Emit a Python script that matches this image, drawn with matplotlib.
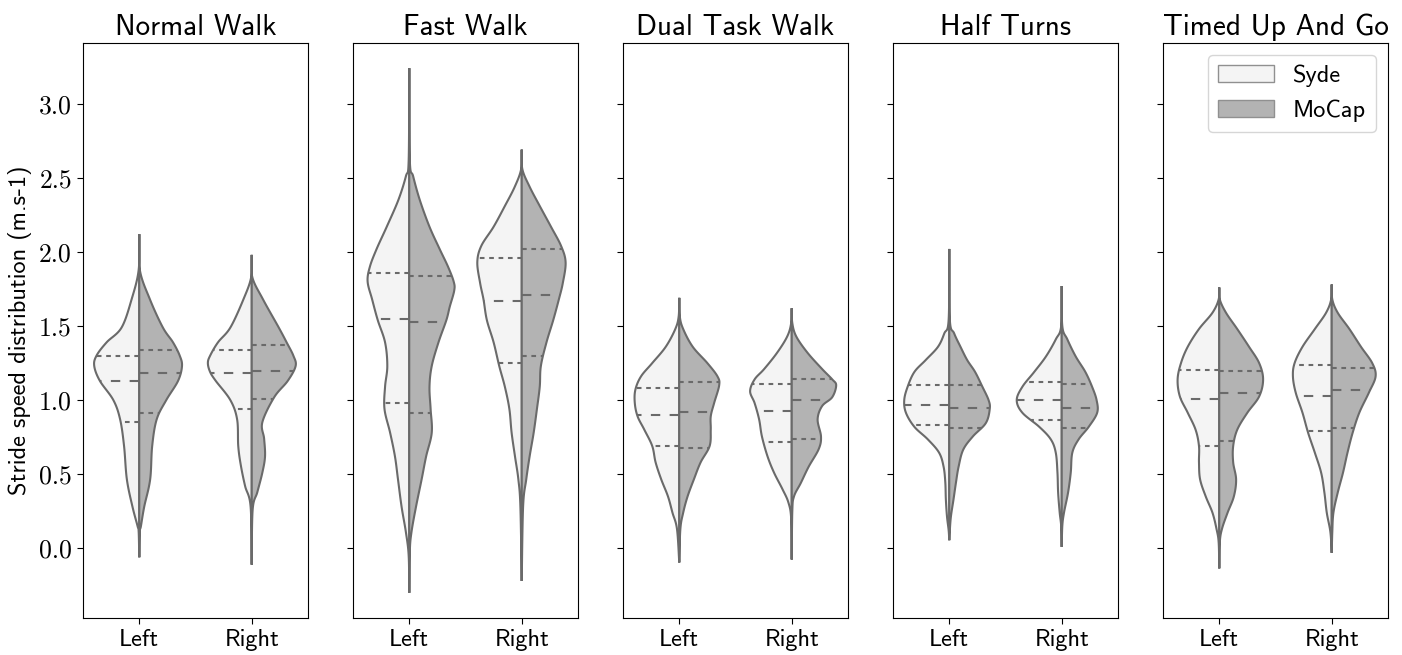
import numpy as np
import matplotlib
matplotlib.use("Agg")
import matplotlib.pyplot as plt
from matplotlib.patches import Patch

plt.rcParams["font.family"] = "cmss10"
plt.rcParams["axes.formatter.use_mathtext"] = True

tasks = ["Normal Walk", "Fast Walk", "Dual Task Walk", "Half Turns", "Timed Up And Go"]
feet = ["Left", "Right"]
systems = ["Syde", "MoCap"]

# half-violin outlines: stride speed levels (m/s) and density half-widths
nw_left_syde_y = [-0.06, 0.11, 0.15, 0.28, 0.465, 0.69, 0.87, 1.0, 1.13, 1.23, 1.30, 1.39, 1.49, 1.68, 1.88, 2.12]
nw_left_syde_w = [0, 0.005, 0.015, 0.06, 0.11, 0.135, 0.17, 0.23, 0.35, 0.40, 0.38, 0.29, 0.157, 0.068, 0.005, 0]
nw_left_mocap_y = [-0.06, 0.11, 0.15, 0.28, 0.465, 0.69, 0.87, 1.0, 1.13, 1.23, 1.30, 1.39, 1.49, 1.68, 1.88, 2.12]
nw_left_mocap_w = [0, 0.005, 0.015, 0.044, 0.097, 0.115, 0.155, 0.24, 0.345, 0.38, 0.36, 0.30, 0.21, 0.095, 0.005, 0]
nw_right_syde_y = [-0.11, 0.28, 0.42, 0.56, 0.69, 0.87, 1.0, 1.13, 1.19, 1.25, 1.30, 1.39, 1.49, 1.68, 1.83, 1.98]
nw_right_syde_w = [0, 0.01, 0.059, 0.097, 0.12, 0.13, 0.19, 0.32, 0.37, 0.39, 0.37, 0.30, 0.19, 0.074, 0.005, 0]
nw_right_mocap_y = [-0.11, 0.26, 0.38, 0.51, 0.62, 0.74, 0.85, 1.02, 1.13, 1.23, 1.30, 1.39, 1.49, 1.68, 1.83, 1.98]
nw_right_mocap_w = [0, 0.008, 0.05, 0.094, 0.118, 0.11, 0.094, 0.20, 0.32, 0.39, 0.37, 0.31, 0.24, 0.10, 0.005, 0]

fw_left_syde_y = [-0.30, -0.05, 0.11, 0.28, 0.465, 0.62, 0.78, 0.94, 1.09, 1.23, 1.39, 1.54, 1.68, 1.80, 1.90, 2.02, 2.17, 2.35, 2.51, 2.62, 3.24]
fw_left_syde_w = [0, 0.005, 0.03, 0.068, 0.10, 0.127, 0.17, 0.22, 0.215, 0.195, 0.215, 0.28, 0.33, 0.37, 0.35, 0.29, 0.20, 0.097, 0.03, 0.005, 0]
fw_left_mocap_y = [-0.30, -0.02, 0.11, 0.28, 0.465, 0.62, 0.78, 0.94, 1.09, 1.23, 1.39, 1.54, 1.63, 1.74, 1.80, 1.90, 2.02, 2.17, 2.35, 2.51, 2.62, 3.24]
fw_left_mocap_w = [0, 0.005, 0.02, 0.06, 0.11, 0.15, 0.20, 0.19, 0.18, 0.20, 0.26, 0.33, 0.36, 0.40, 0.395, 0.345, 0.27, 0.18, 0.094, 0.035, 0.005, 0]
fw_right_syde_y = [-0.22, 0.28, 0.465, 0.62, 0.78, 0.94, 1.09, 1.23, 1.39, 1.54, 1.68, 1.79, 1.93, 2.04, 2.17, 2.31, 2.44, 2.56, 2.69]
fw_right_syde_w = [0, 0.012, 0.03, 0.06, 0.09, 0.11, 0.15, 0.20, 0.25, 0.31, 0.34, 0.37, 0.395, 0.36, 0.25, 0.15, 0.062, 0.005, 0]
fw_right_mocap_y = [-0.22, 0.28, 0.465, 0.62, 0.78, 0.94, 1.09, 1.23, 1.39, 1.54, 1.68, 1.79, 1.93, 2.04, 2.17, 2.31, 2.44, 2.56, 2.69]
fw_right_mocap_w = [0, 0.012, 0.04, 0.07, 0.106, 0.135, 0.16, 0.17, 0.22, 0.28, 0.33, 0.365, 0.39, 0.35, 0.26, 0.16, 0.07, 0.005, 0]

dt_left_syde_y = [-0.095, 0.13, 0.24, 0.35, 0.465, 0.58, 0.69, 0.80, 0.89, 0.98, 1.07, 1.16, 1.25, 1.36, 1.48, 1.565, 1.69]
dt_left_syde_w = [0, 0.02, 0.06, 0.10, 0.16, 0.21, 0.24, 0.31, 0.37, 0.395, 0.39, 0.34, 0.24, 0.12, 0.035, 0.005, 0]
dt_left_mocap_y = [-0.095, 0.13, 0.24, 0.35, 0.465, 0.58, 0.69, 0.80, 0.89, 0.98, 1.10, 1.16, 1.25, 1.36, 1.48, 1.565, 1.69]
dt_left_mocap_w = [0, 0.01, 0.035, 0.074, 0.13, 0.19, 0.27, 0.28, 0.28, 0.31, 0.355, 0.34, 0.25, 0.12, 0.035, 0.005, 0]
dt_right_syde_y = [-0.075, 0.20, 0.31, 0.40, 0.51, 0.62, 0.755, 0.87, 0.98, 1.06, 1.14, 1.21, 1.32, 1.43, 1.52, 1.62]
dt_right_syde_w = [0, 0.005, 0.03, 0.083, 0.157, 0.215, 0.265, 0.29, 0.33, 0.37, 0.33, 0.245, 0.13, 0.04, 0.005, 0]
dt_right_mocap_y = [-0.075, 0.25, 0.35, 0.44, 0.55, 0.67, 0.755, 0.87, 0.96, 1.02, 1.10, 1.14, 1.21, 1.32, 1.43, 1.52, 1.62]
dt_right_mocap_w = [0, 0.005, 0.02, 0.08, 0.15, 0.24, 0.26, 0.23, 0.27, 0.36, 0.395, 0.36, 0.27, 0.14, 0.04, 0.005, 0]

ht_left_syde_y = [0.055, 0.12, 0.215, 0.33, 0.445, 0.55, 0.645, 0.735, 0.82, 0.915, 1.0, 1.09, 1.19, 1.27, 1.36, 1.45, 1.545, 2.02]
ht_left_syde_w = [0, 0.005, 0.02, 0.03, 0.035, 0.05, 0.09, 0.19, 0.31, 0.385, 0.40, 0.37, 0.31, 0.21, 0.10, 0.044, 0.005, 0]
ht_left_mocap_y = [0.055, 0.12, 0.215, 0.33, 0.445, 0.55, 0.665, 0.755, 0.845, 0.94, 1.0, 1.09, 1.19, 1.27, 1.36, 1.45, 1.545, 2.02]
ht_left_mocap_w = [0, 0.005, 0.015, 0.038, 0.06, 0.083, 0.124, 0.21, 0.325, 0.36, 0.35, 0.295, 0.23, 0.16, 0.10, 0.044, 0.005, 0]
ht_right_syde_y = [0.01, 0.15, 0.24, 0.375, 0.51, 0.645, 0.735, 0.82, 0.915, 1.0, 1.09, 1.19, 1.295, 1.41, 1.50, 1.77]
ht_right_syde_w = [0, 0.005, 0.018, 0.032, 0.038, 0.053, 0.097, 0.20, 0.35, 0.40, 0.35, 0.245, 0.14, 0.053, 0.005, 0]
ht_right_mocap_y = [0.01, 0.15, 0.24, 0.375, 0.51, 0.645, 0.735, 0.82, 0.915, 1.0, 1.09, 1.19, 1.295, 1.41, 1.50, 1.77]
ht_right_mocap_w = [0, 0.005, 0.02, 0.056, 0.08, 0.094, 0.15, 0.24, 0.315, 0.31, 0.27, 0.21, 0.124, 0.05, 0.005, 0]

tug_left_syde_y = [-0.135, 0.04, 0.13, 0.24, 0.35, 0.465, 0.58, 0.69, 0.80, 0.915, 1.025, 1.14, 1.25, 1.36, 1.48, 1.59, 1.68, 1.76]
tug_left_syde_w = [0, 0.005, 0.024, 0.06, 0.12, 0.17, 0.18, 0.18, 0.21, 0.28, 0.35, 0.37, 0.34, 0.28, 0.18, 0.06, 0.005, 0]
tug_left_mocap_y = [-0.135, 0.04, 0.13, 0.24, 0.35, 0.465, 0.58, 0.69, 0.80, 0.915, 1.025, 1.14, 1.25, 1.36, 1.48, 1.59, 1.68, 1.76]
tug_left_mocap_w = [0, 0.005, 0.024, 0.074, 0.13, 0.15, 0.124, 0.124, 0.16, 0.25, 0.355, 0.39, 0.355, 0.265, 0.16, 0.06, 0.005, 0]
tug_right_syde_y = [-0.03, 0.11, 0.24, 0.375, 0.51, 0.645, 0.78, 0.915, 1.05, 1.16, 1.25, 1.36, 1.48, 1.59, 1.68, 1.78]
tug_right_syde_w = [0, 0.012, 0.044, 0.065, 0.094, 0.15, 0.21, 0.26, 0.32, 0.345, 0.33, 0.26, 0.15, 0.05, 0.005, 0]
tug_right_mocap_y = [-0.03, 0.11, 0.24, 0.375, 0.51, 0.645, 0.78, 0.915, 1.05, 1.16, 1.25, 1.36, 1.48, 1.59, 1.68, 1.78]
tug_right_mocap_w = [0, 0.005, 0.015, 0.053, 0.10, 0.14, 0.186, 0.245, 0.33, 0.39, 0.36, 0.26, 0.157, 0.053, 0.005, 0]

# quartiles per task, ordered: left syde, left mocap, right syde, right mocap
q1 = {
    "Normal Walk": [0.85, 0.91, 0.937, 1.01],
    "Fast Walk": [0.98, 0.91, 1.25, 1.295],
    "Dual Task Walk": [0.69, 0.675, 0.715, 0.735],
    "Half Turns": [0.835, 0.815, 0.865, 0.81],
    "Timed Up And Go": [0.69, 0.725, 0.79, 0.815],
}
medians = {
    "Normal Walk": [1.13, 1.18, 1.18, 1.195],
    "Fast Walk": [1.55, 1.525, 1.67, 1.71],
    "Dual Task Walk": [0.90, 0.92, 0.93, 1.0],
    "Half Turns": [0.965, 0.95, 1.0, 0.95],
    "Timed Up And Go": [1.01, 1.05, 1.025, 1.07],
}
q3 = {
    "Normal Walk": [1.295, 1.335, 1.335, 1.375],
    "Fast Walk": [1.86, 1.835, 1.96, 2.02],
    "Dual Task Walk": [1.085, 1.125, 1.11, 1.14],
    "Half Turns": [1.105, 1.105, 1.125, 1.11],
    "Timed Up And Go": [1.20, 1.195, 1.235, 1.22],
}

outlines = {
    "Normal Walk": [(nw_left_syde_y, nw_left_syde_w), (nw_left_mocap_y, nw_left_mocap_w),
                    (nw_right_syde_y, nw_right_syde_w), (nw_right_mocap_y, nw_right_mocap_w)],
    "Fast Walk": [(fw_left_syde_y, fw_left_syde_w), (fw_left_mocap_y, fw_left_mocap_w),
                  (fw_right_syde_y, fw_right_syde_w), (fw_right_mocap_y, fw_right_mocap_w)],
    "Dual Task Walk": [(dt_left_syde_y, dt_left_syde_w), (dt_left_mocap_y, dt_left_mocap_w),
                       (dt_right_syde_y, dt_right_syde_w), (dt_right_mocap_y, dt_right_mocap_w)],
    "Half Turns": [(ht_left_syde_y, ht_left_syde_w), (ht_left_mocap_y, ht_left_mocap_w),
                   (ht_right_syde_y, ht_right_syde_w), (ht_right_mocap_y, ht_right_mocap_w)],
    "Timed Up And Go": [(tug_left_syde_y, tug_left_syde_w), (tug_left_mocap_y, tug_left_mocap_w),
                        (tug_right_syde_y, tug_right_syde_w), (tug_right_mocap_y, tug_right_mocap_w)],
}

fill_colors = {"Syde": "#f4f4f4", "MoCap": "#b3b3b3"}
line_gray = "#6a6a6a"


def smooth_outline(ws, ys, n=16):
    # catmull-rom curve through the outline points
    px = np.r_[ws[0], ws, ws[-1]].astype(float)
    py = np.r_[ys[0], ys, ys[-1]].astype(float)
    t = np.linspace(0, 1, n, endpoint=False)[:, None]
    xs, ys_out = [], []
    for i in range(1, len(px) - 2):
        p = np.array([[px[i - 1], py[i - 1]], [px[i], py[i]],
                      [px[i + 1], py[i + 1]], [px[i + 2], py[i + 2]]])
        seg = 0.5 * (2 * p[1] + (-p[0] + p[2]) * t
                     + (2 * p[0] - 5 * p[1] + 4 * p[2] - p[3]) * t ** 2
                     + (-p[0] + 3 * p[1] - 3 * p[2] + p[3]) * t ** 3)
        xs.append(seg[:, 0])
        ys_out.append(seg[:, 1])
    xs.append([px[-1]])
    ys_out.append([py[-1]])
    return np.clip(np.concatenate(xs), 0, None), np.concatenate(ys_out)


def half_violin(ax, center, side, ys, ws, color, quartiles):
    sw, sy = smooth_outline(ws, ys)
    xs = np.r_[center + side * sw, center, center]
    yy = np.r_[sy, sy[-1], sy[0]]
    ax.fill(xs, yy, facecolor=color, edgecolor=line_gray, linewidth=1.5, zorder=2)
    order = np.argsort(sy)
    for q, dash in zip(quartiles, [(2.25, 2.25), (4.5, 4.5), (2.25, 2.25)]):
        w = np.interp(q, sy[order], sw[order])
        ax.plot([center, center + side * w], [q, q], color=line_gray,
                linewidth=1.5, dashes=dash, zorder=3)


fig, axes = plt.subplots(1, 5, figsize=(14.02, 6.55), dpi=100, sharey=True)
fig.subplots_adjust(left=0.0592, right=0.990, bottom=0.0565, top=0.9344, wspace=0.2)

for ax, task in zip(axes, tasks):
    for k, (ys, ws) in enumerate(outlines[task]):
        pos = k // 2
        side = -1 if k % 2 == 0 else 1
        system = systems[k % 2]
        half_violin(ax, pos, side, ys, ws, fill_colors[system],
                    [q1[task][k], medians[task][k], q3[task][k]])
    ax.set_title(task, fontsize=21)
    ax.set_xlim(-0.5, 1.5)
    ax.set_xticks([0, 1])
    ax.set_xticklabels(feet, fontsize=17.5)
    ax.tick_params(length=4.5)

axes[0].set_ylim(-0.47, 3.41)
axes[0].set_yticks([0.0, 0.5, 1.0, 1.5, 2.0, 2.5, 3.0])
axes[0].set_yticklabels(["%.1f" % v for v in axes[0].get_yticks()], fontfamily="cmr10", fontsize=18.5)
axes[0].set_ylabel("Stride speed distribution (m.s-1)", fontsize=17.5, labelpad=5)

handles = [Patch(facecolor=fill_colors[s], edgecolor="#909090", linewidth=1) for s in systems]
axes[-1].legend(handles, systems, loc="upper right", fontsize=17.5, handlelength=2.3)

fig.savefig("out.png", dpi=100)
